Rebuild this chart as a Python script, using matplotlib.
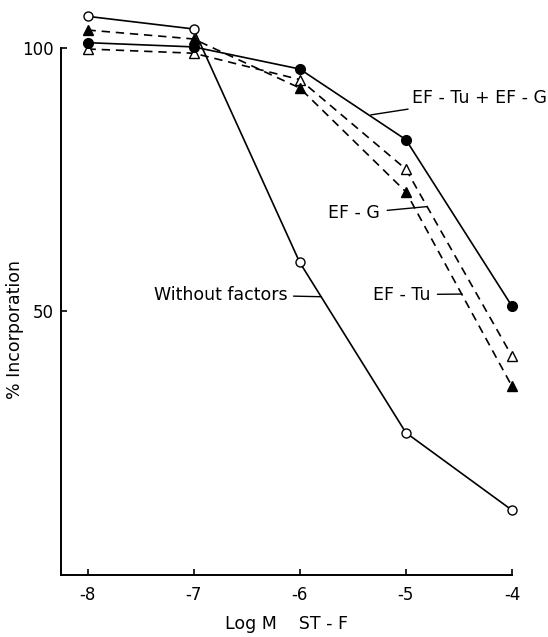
import matplotlib
matplotlib.use("Agg")
from matplotlib import pyplot as plt

# log molar concentration of ST-F
log_conc = [-8, -7, -6, -5, -4]

# % incorporation
both_factors = [101, 100.2, 96, 82.6, 51]      # EF-Tu + EF-G, filled circles
no_factors = [106, 103.6, 59.3, 27, 12.3]      # Without factors, open circles
ef_g = [99.8, 99, 94, 77, 41.5]                # EF-G, open triangles
ef_tu = [103.4, 101.7, 92.4, 72.7, 35.8]       # EF-Tu, filled triangles

x_ticks = [-8, -7, -6, -5, -4]
y_ticks = [50, 100]

plt.rcParams['font.family'] = ['DejaVu Sans']

fig = plt.figure(figsize=(5.48, 6.37), dpi=100)
W, H = 548, 637
ax = fig.add_axes([61 / W, 1 - 575 / H, (512 - 61) / W, (575 - 10) / H])

lw = 1.2
dash = (0, (5, 3.5))
ax.plot(log_conc, no_factors, color='black', lw=lw, marker='o', ms=6.5,
        mfc='white', mec='black', mew=1.0, clip_on=False, zorder=3)
ax.plot(log_conc, ef_g, color='black', lw=lw, ls=dash, marker='^', ms=6.5,
        mfc='white', mec='black', mew=1.0, clip_on=False, zorder=3)
ax.plot(log_conc, ef_tu, color='black', lw=lw, ls=dash, marker='^', ms=6.5,
        mfc='black', mec='black', clip_on=False, zorder=4)
ax.plot(log_conc, both_factors, color='black', lw=lw, marker='o', ms=7,
        mfc='black', mec='black', clip_on=False, zorder=5)

ax.set_xlim(-8.25, -4)
ax.set_ylim(0, 107.2)
ax.set_xticks(x_ticks)
ax.set_xticklabels(['-8', '-7', '-6', '-5', '-4'])
ax.set_yticks(y_ticks)

for s in ['top', 'right']:
    ax.spines[s].set_visible(False)
ax.spines['left'].set_bounds(0, 100)
ax.spines['left'].set_linewidth(1.4)
ax.spines['bottom'].set_linewidth(1.4)
ax.tick_params(axis='x', direction='in', length=4, width=1.2, labelsize=12, pad=8)
ax.tick_params(axis='y', direction='in', length=4, width=1.2, labelsize=12, pad=5)

ax.set_xlabel('Log M    ST - F', fontsize=12.5, labelpad=8)
ax.set_ylabel('% Incorporation', fontsize=12.5)
ax.yaxis.set_label_coords(-0.082, 0.434)

fs = 12.5
# curve labels with pointer lines
ax.annotate('EF - Tu + EF - G', xy=(-5.33, 87.3), xytext=(-4.94, 90.5),
            fontsize=fs, va='center', ha='left',
            arrowprops=dict(arrowstyle='-', color='black', lw=1.0,
                            shrinkA=1, shrinkB=0))
ax.annotate('EF - G', xy=(-4.80, 69.9), xytext=(-5.73, 68.6),
            fontsize=fs, va='center', ha='left',
            arrowprops=dict(arrowstyle='-', color='black', lw=1.0,
                            shrinkA=3, shrinkB=0))
ax.annotate('EF - Tu', xy=(-4.47, 53.3), xytext=(-5.31, 53.2),
            fontsize=fs, va='center', ha='left',
            arrowprops=dict(arrowstyle='-', color='black', lw=1.0,
                            shrinkA=3, shrinkB=0))
ax.annotate('Without factors', xy=(-5.80, 52.8), xytext=(-7.37, 53.2),
            fontsize=fs, va='center', ha='left',
            arrowprops=dict(arrowstyle='-', color='black', lw=1.0,
                            shrinkA=2, shrinkB=0))

fig.savefig('out.png', dpi=100)
